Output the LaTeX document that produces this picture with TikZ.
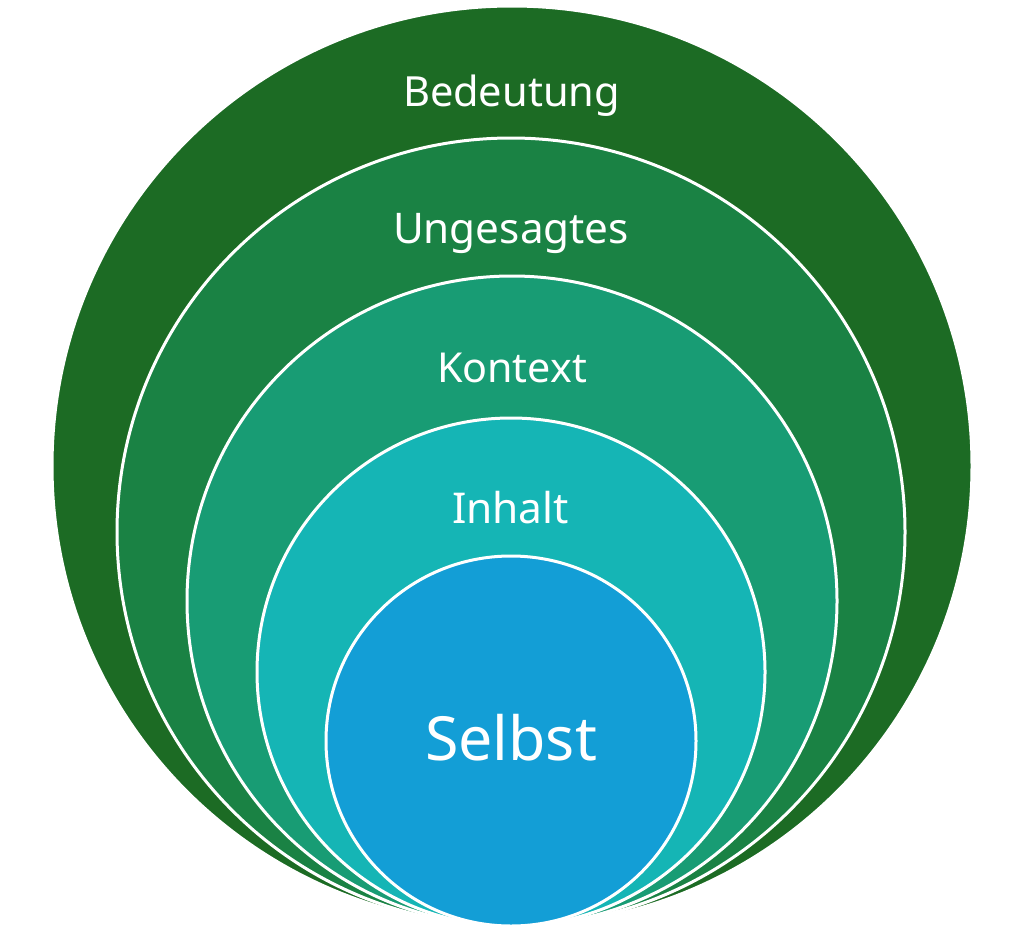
\documentclass[tikz,border=0pt]{standalone}
\usepackage{fontspec}
\setmainfont{Noto Sans}
\usepackage{graphicx}
\definecolor{cA}{HTML}{1C6B24}
\definecolor{cB}{HTML}{1A8244}
\definecolor{cC}{HTML}{189C74}
\definecolor{cD}{HTML}{15B5B5}
\definecolor{cE}{HTML}{139ED6}
\tikzset{
  ring/.style={draw=white, line width=3pt},
  lbl/.style={text=white, anchor=base, inner sep=0pt, font=\fontsize{42}{48}\selectfont},
  biglbl/.style={text=white, anchor=base, inner sep=0pt, font=\fontsize{60}{70}\selectfont}
}
\begin{document}
\begin{tikzpicture}[x=1pt,y=-1pt]
\useasboundingbox (0,0) rectangle (1024,934);
\fill[white] (0,0) rectangle (1024,934);
\node[circle, ring, fill=cA, minimum size=920pt, inner sep=0pt] (c1) at (512,466) {};
\node[circle, ring, fill=cB, minimum size=788pt, inner sep=0pt] (c2) at (511,532) {};
\node[circle, ring, fill=cC, minimum size=650pt, inner sep=0pt] (c3) at (512,601) {};
\node[circle, ring, fill=cD, minimum size=508pt, inner sep=0pt] (c4) at (511,672) {};
\node[circle, ring, fill=cE, minimum size=370pt, inner sep=0pt] (c5) at (511,741) {};
\node[lbl] (t1) at (511.5,106) {\resizebox{217pt}{!}{Bedeutung}};
\node[lbl] (t2) at (511,243) {\resizebox{236pt}{!}{Ungesagtes}};
\node[lbl] (t3) at (512,382) {\resizebox{150pt}{!}{Kontext}};
\node[lbl] (t4) at (510.5,523) {\resizebox{117pt}{!}{Inhalt}};
\node[biglbl] (t5) at (511,760) {\resizebox{172pt}{!}{Selbst}};
\end{tikzpicture}
\end{document}
